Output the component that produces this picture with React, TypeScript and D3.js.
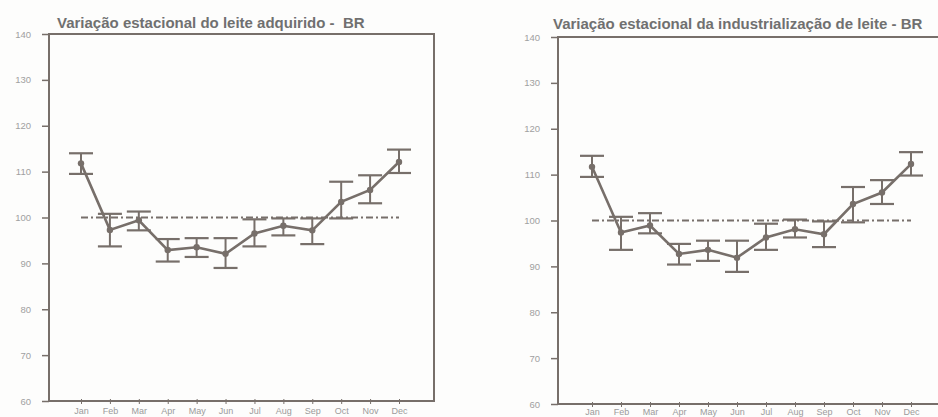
import React, { useEffect, useRef } from 'react';
import * as d3 from 'd3';

const MONTHS = ['Jan', 'Feb', 'Mar', 'Apr', 'May', 'Jun', 'Jul', 'Aug', 'Sep', 'Oct', 'Nov', 'Dec'];
const Y_TICKS = [60, 70, 80, 90, 100, 110, 120, 130, 140];
const BASELINE = 100;

// leite adquirido
const ACQ_MEAN = [111.8, 97.3, 99.4, 92.9, 93.5, 92.1, 96.5, 98.2, 97.2, 103.4, 106.0, 112.1];
const ACQ_LOW = [109.5, 93.7, 97.2, 90.4, 91.4, 89.0, 93.7, 96.1, 94.2, 99.8, 103.1, 109.7];
const ACQ_HIGH = [114.0, 100.8, 101.3, 95.3, 95.5, 95.5, 99.6, 99.8, 99.8, 107.8, 109.2, 114.8];

// industrialização
const IND_MEAN = [111.7, 97.4, 98.9, 92.7, 93.6, 91.9, 96.3, 98.1, 97.0, 103.6, 106.1, 112.3];
const IND_LOW = [109.5, 93.6, 97.2, 90.4, 91.2, 88.8, 93.6, 96.3, 94.2, 99.6, 103.6, 109.8];
const IND_HIGH = [114.1, 100.8, 101.6, 94.9, 95.6, 95.6, 99.3, 100.2, 99.8, 107.3, 108.8, 114.9];

const INK = '#776f6a';
const FONT = '"Liberation Sans", Arial, sans-serif';

interface Panel {
  title: string;
  mean: number[];
  low: number[];
  high: number[];
  left: number;
  right: number;
  top: number;
  bottom: number;
  xFirst: number;
  xLast: number;
  titleX: number;
  titleY: number;
}

const PANELS: Panel[] = [
  {
    title: 'Variação estacional do leite adquirido -  BR',
    mean: ACQ_MEAN, low: ACQ_LOW, high: ACQ_HIGH,
    left: 49, right: 434, top: 34, bottom: 401,
    xFirst: 81, xLast: 399, titleX: 57, titleY: 27.5
  },
  {
    title: 'Variação estacional da industrialização de leite - BR',
    mean: IND_MEAN, low: IND_LOW, high: IND_HIGH,
    left: 558, right: 944, top: 37, bottom: 404,
    xFirst: 592, xLast: 911, titleX: 553, titleY: 28.5
  }
];

const App: React.FC = () => {
  const svgRef = useRef<SVGSVGElement>(null);

  useEffect(() => {
    if (!svgRef.current) return;
    const svg = d3.select(svgRef.current);
    svg.selectAll('*').remove();

    svg.append('rect').attr('width', 938).attr('height', 417).attr('fill', '#fdfdfc');

    PANELS.forEach(p => {
      const g = svg.append('g');

      const x = d3.scaleLinear().domain([0, MONTHS.length - 1]).range([p.xFirst, p.xLast]);
      const y = d3.scaleLinear().domain([60, 140]).range([p.bottom, p.top]);

      // y axis
      const yAxis = g.append('g')
        .attr('transform', `translate(${p.left},0)`)
        .call(d3.axisLeft(y).tickValues(Y_TICKS).tickSize(7).tickPadding(11));
      yAxis.select('.domain').remove();
      yAxis.selectAll('line').attr('stroke', INK).attr('stroke-width', 1.5);
      yAxis.selectAll('text')
        .attr('fill', '#a0a0a0')
        .style('font-family', FONT)
        .style('font-size', '9.5px');

      // x axis
      const xAxis = g.append('g')
        .attr('transform', `translate(0,${p.bottom})`)
        .call(d3.axisBottom(x)
          .tickValues(d3.range(MONTHS.length))
          .tickFormat(i => MONTHS[i as number])
          .tickSizeInner(3)
          .tickSizeOuter(0)
          .tickPadding(p.bottom > 402 ? 2 : 4));
      xAxis.select('.domain').remove();
      xAxis.selectAll('line').attr('stroke', INK).attr('stroke-width', 1).attr('y1', -2);
      xAxis.selectAll('text')
        .attr('fill', '#9b9b9b')
        .style('font-family', FONT)
        .style('font-size', '9px');

      // frame
      g.append('rect')
        .attr('x', p.left)
        .attr('y', p.top)
        .attr('width', p.right - p.left)
        .attr('height', p.bottom - p.top)
        .attr('fill', 'none')
        .attr('stroke', INK)
        .attr('stroke-width', 2);

      // reference line at 100
      g.append('line')
        .attr('x1', x(0))
        .attr('x2', x(MONTHS.length - 1))
        .attr('y1', y(BASELINE))
        .attr('y2', y(BASELINE))
        .attr('stroke', INK)
        .attr('stroke-width', 2)
        .attr('stroke-dasharray', '7,3,2,3');

      // error bars
      const idx = d3.range(MONTHS.length);
      const capW = 12;
      g.selectAll('.whisker')
        .data(idx)
        .enter()
        .append('line')
        .attr('x1', i => x(i))
        .attr('x2', i => x(i))
        .attr('y1', i => y(p.low[i]))
        .attr('y2', i => y(p.high[i]))
        .attr('stroke', INK)
        .attr('stroke-width', 2);

      ['low', 'high'].forEach(k => {
        const vals = k === 'low' ? p.low : p.high;
        g.selectAll(`.cap-${k}`)
          .data(idx)
          .enter()
          .append('line')
          .attr('x1', i => x(i) - capW)
          .attr('x2', i => x(i) + capW)
          .attr('y1', i => y(vals[i]))
          .attr('y2', i => y(vals[i]))
          .attr('stroke', INK)
          .attr('stroke-width', 2.2);
      });

      // mean line
      const line = d3.line<number>().x((_, i) => x(i)).y(d => y(d));
      g.append('path')
        .datum(p.mean)
        .attr('d', line)
        .attr('fill', 'none')
        .attr('stroke', INK)
        .attr('stroke-width', 2.6);

      g.selectAll('.pt')
        .data(p.mean)
        .enter()
        .append('circle')
        .attr('cx', (_, i) => x(i))
        .attr('cy', d => y(d))
        .attr('r', 3.2)
        .attr('fill', INK);

      // title
      g.append('text')
        .attr('x', p.titleX)
        .attr('y', p.titleY)
        .attr('fill', '#707070')
        .style('font-family', FONT)
        .style('font-size', '15px')
        .style('font-weight', 'bold')
        .style('white-space', 'pre')
        .text(p.title);
    });
  }, []);

  return (
    <>
      <style>{'body{margin:0;}'}</style>
      <svg ref={svgRef} width={938} height={417} style={{ display: 'block' }} />
    </>
  );
};

export default App;
